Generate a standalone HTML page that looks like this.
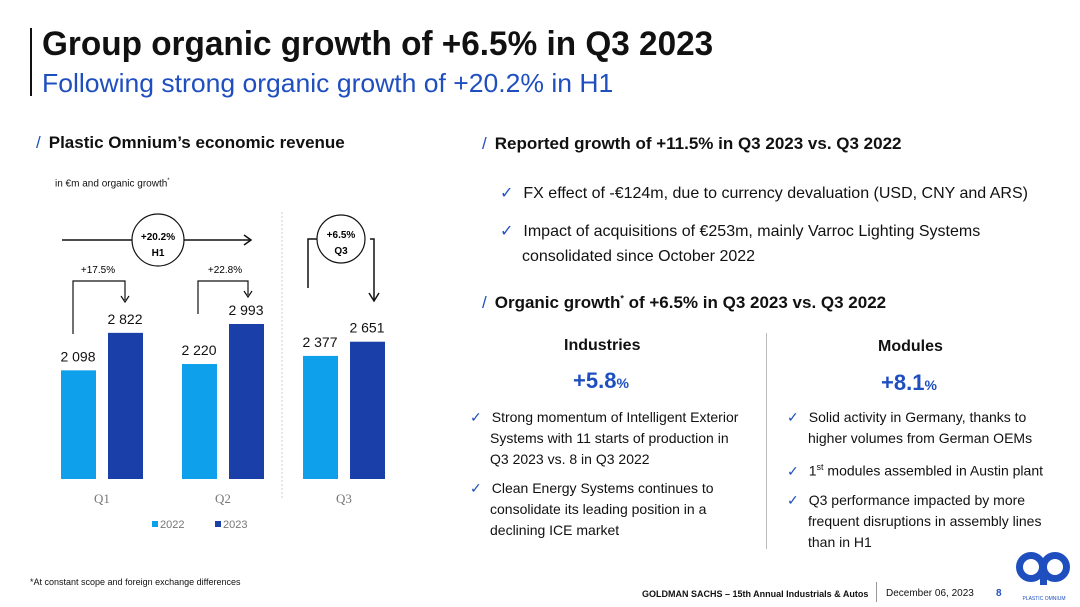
<!DOCTYPE html>
<html><head><meta charset="utf-8">
<style>
body{margin:0;width:1080px;height:607px;background:#fff;font-family:"Liberation Sans",sans-serif;position:relative;overflow:hidden;color:#111}
.abs{position:absolute;white-space:nowrap}
.chk{color:#1f4fbf;margin-right:10px}
</style></head><body>
<div class="abs" style="left:30px;top:28px;width:2px;height:68px;background:#111"></div>
<div class="abs" style="left:42px;top:25px;font-size:34px;font-weight:bold;color:#111;transform:scaleX(0.98);transform-origin:left top">Group organic growth of +6.5% in Q3 2023</div>
<div class="abs" style="left:42px;top:68px;font-size:26px;color:#1f4fbf;transform:scaleX(1.02);transform-origin:left top">Following strong organic growth of +20.2% in H1</div>

<div class="abs" style="left:36px;top:133px;font-size:17px;font-weight:bold"><span style="color:#1f4fbf;font-weight:normal;margin-right:8px">/</span>Plastic Omnium’s economic revenue</div>
<div class="abs" style="left:55px;top:178px;font-size:10px">in €m and organic growth<sup style="font-size:6px">*</sup></div>

<svg class="abs" style="left:0;top:0" width="420" height="560">
 <g id="bars"></g>
 <line x1="282" y1="212" x2="282" y2="500" stroke="#ccc" stroke-dasharray="2,2"/>
 <line x1="62" y1="240" x2="132" y2="240" stroke="#111" stroke-width="1.5"/>
 <line x1="184" y1="240" x2="250" y2="240" stroke="#111" stroke-width="1.5"/>
 <polyline points="244,235 251,240 244,245" fill="none" stroke="#111" stroke-width="1.5"/>
 <circle cx="158" cy="240" r="26" fill="#fff" stroke="#111" stroke-width="1.2"/>
 <text x="158" y="240" font-size="10" font-weight="bold" text-anchor="middle">+20.2%</text>
 <text x="158" y="256" font-size="10" font-weight="bold" text-anchor="middle">H1</text>
 <polyline points="73,334 73,281 125,281 125,300" fill="none" stroke="#111" stroke-width="1.2"/>
 <polyline points="121,296 125,302 129,296" fill="none" stroke="#111" stroke-width="1.2"/>
 <text x="98" y="273" font-size="10" text-anchor="middle">+17.5%</text>
 <polyline points="198,314 198,281 248,281 248,295" fill="none" stroke="#111" stroke-width="1.2"/>
 <polyline points="244,291 248,297 252,291" fill="none" stroke="#111" stroke-width="1.2"/>
 <text x="225" y="273" font-size="10" text-anchor="middle">+22.8%</text>
 <polyline points="308,288 308,239 319,239" fill="none" stroke="#111" stroke-width="1.5"/>
 <polyline points="370,239 374,239 374,300" fill="none" stroke="#111" stroke-width="1.5"/>
 <polyline points="369,293 374,301 379,293" fill="none" stroke="#111" stroke-width="1.5"/>
 <circle cx="341" cy="239" r="24" fill="#fff" stroke="#111" stroke-width="1.2"/>
 <text x="341" y="238" font-size="10" font-weight="bold" text-anchor="middle">+6.5%</text>
 <text x="341" y="254" font-size="10" font-weight="bold" text-anchor="middle">Q3</text>
 <rect x="152" y="521" width="6" height="6" fill="#0ea0ea"/>
 <text x="160" y="528" font-size="11" fill="#777">2022</text>
 <rect x="215" y="521" width="6" height="6" fill="#1a3fa8"/>
 <text x="223" y="528" font-size="11" fill="#777">2023</text>
</svg>

<div class="abs" style="left:482px;top:134px;font-size:17px;font-weight:bold"><span style="color:#1f4fbf;font-weight:normal;margin-right:8px">/</span>Reported growth of +11.5% in Q3 2023 vs. Q3 2022</div>
<div class="abs" style="left:500px;top:183px;font-size:16px"><span class="chk">✓</span>FX effect of -€124m, due to currency devaluation (USD, CNY and ARS)</div>
<div class="abs" style="left:500px;top:219px;font-size:16px;line-height:25px"><span class="chk">✓</span>Impact of acquisitions of €253m, mainly Varroc Lighting Systems<br><span style="margin-left:22px">consolidated since October 2022</span></div>
<div class="abs" style="left:482px;top:293px;font-size:17px;font-weight:bold"><span style="color:#1f4fbf;font-weight:normal;margin-right:8px">/</span>Organic growth<sup style="font-size:9px">*</sup> of +6.5% in Q3 2023 vs. Q3 2022</div>

<div class="abs" style="left:564px;top:337px;font-size:16px;font-weight:bold">Industries</div>
<div class="abs" style="left:573px;top:368px;font-size:22px;font-weight:bold;color:#1f4fbf">+5.8<span style="font-size:14px">%</span></div>
<div class="abs" style="left:878px;top:338px;font-size:16px;font-weight:bold">Modules</div>
<div class="abs" style="left:881px;top:370px;font-size:22px;font-weight:bold;color:#1f4fbf">+8.1<span style="font-size:14px">%</span></div>
<div class="abs" style="left:766px;top:333px;width:1px;height:216px;background:#bbb"></div>

<div class="abs" style="left:470px;top:407px;font-size:14px;line-height:21px">
<div><span class="chk">✓</span>Strong momentum of Intelligent Exterior</div>
<div style="margin-left:20px">Systems with 11 starts of production in</div>
<div style="margin-left:20px">Q3 2023 vs. 8 in Q3 2022</div>
<div style="margin-top:8px"><span class="chk">✓</span>Clean Energy Systems continues to</div>
<div style="margin-left:20px">consolidate its leading position in a</div>
<div style="margin-left:20px">declining ICE market</div></div>
<div class="abs" style="left:787px;top:407px;font-size:14px;line-height:21px">
<div><span class="chk">✓</span>Solid activity in Germany, thanks to</div>
<div style="margin-left:21px">higher volumes from German OEMs</div>
<div style="margin-top:8px"><span class="chk">✓</span>1<sup style="font-size:9px">st</sup> modules assembled in Austin plant</div>
<div style="margin-top:8px"><span class="chk">✓</span>Q3 performance impacted by more</div>
<div style="margin-left:21px">frequent disruptions in assembly lines</div>
<div style="margin-left:21px">than in H1</div></div>

<div class="abs" style="left:30px;top:577px;font-size:9px">*At constant scope and foreign exchange differences</div>
<div class="abs" style="left:642px;top:589px;font-size:9px;font-weight:bold">GOLDMAN SACHS – 15th Annual Industrials &amp; Autos</div>
<div class="abs" style="left:876px;top:582px;width:1px;height:20px;background:#999"></div>
<div class="abs" style="left:886px;top:588px;font-size:10px">December 06, 2023</div>
<div class="abs" style="left:996px;top:588px;font-size:10px;font-weight:bold;color:#1f4fbf">8</div>
<svg class="abs" style="left:1012px;top:548px" width="64" height="56">
 <circle cx="19" cy="19" r="11.5" fill="none" stroke="#1f4fbf" stroke-width="7"/>
 <circle cx="43" cy="19" r="11.5" fill="none" stroke="#1f4fbf" stroke-width="7"/>
 <rect x="28" y="19" width="7" height="18" fill="#1f4fbf"/>
 <text x="32" y="52" font-size="5" fill="#1f4fbf" text-anchor="middle">PLASTIC OMNIUM</text>
</svg>

<script>
const categories=["Q1","Q2","Q3"];
const values2022=[2098,2220,2377];
const values2023=[2822,2993,2651];
const labels2022=["2 098","2 220","2 377"];
const labels2023=["2 822","2 993","2 651"];
const ns="http://www.w3.org/2000/svg";
const g=document.getElementById('bars');
const baseY=479, scale=155/2993;
const yPos=v=>baseY-v*scale;
const xPos=i=>61+i*121;
function mk(tag,attrs){const e=document.createElementNS(ns,tag);for(const k in attrs)e.setAttribute(k,attrs[k]);g.appendChild(e);return e;}
categories.forEach((c,i)=>{
 const x=xPos(i);
 const b1=mk('rect',{x:x,y:yPos(values2022[i]),width:35,height:baseY-yPos(values2022[i]),fill:'#0ea0ea'});
 
 
 const b2=mk('rect',{x:x+47,y:yPos(values2023[i]),width:35,height:baseY-yPos(values2023[i]),fill:'#1a3fa8'});
 
 
 const t1=mk('text',{x:x+17,y:yPos(values2022[i])-9,'font-size':14,'text-anchor':'middle',fill:'#111'});
 t1.textContent=labels2022[i];
 
 
 const t2=mk('text',{x:x+64,y:yPos(values2023[i])-9,'font-size':14,'text-anchor':'middle',fill:'#111'});
 t2.textContent=labels2023[i];
 
 
 const ct=mk('text',{x:x+41,y:503,'font-size':13,'text-anchor':'middle',fill:'#777','font-family':'Liberation Serif, serif'});
 ct.textContent=c;
 
 
});
</script>
</body></html>
